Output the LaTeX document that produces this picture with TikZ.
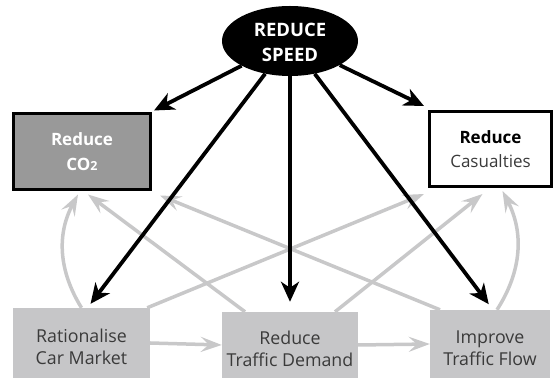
\documentclass[tikz,border=0pt]{standalone}
\usepackage{fontspec}
\setmainfont{Open Sans}
\usetikzlibrary{arrows.meta,shapes.geometric,calc}
\definecolor{lgray}{HTML}{C8C8C9}
\definecolor{boxgray}{HTML}{C6C6C8}
\definecolor{dgray}{HTML}{999999}
\definecolor{txt}{HTML}{3A3A3A}
\newcommand{\lowstrut}{\rule{0pt}{21pt}}
\begin{document}
\begin{tikzpicture}[x=1pt,y=-1pt,
  blk/.style={draw=black, line width=3.8pt, -{Stealth[length=20pt,width=18pt,inset=6pt]}},
  gry/.style={draw=lgray, line width=3.5pt, -{Stealth[length=21pt,width=15pt,inset=8pt]}},
  lowbox/.style={fill=boxgray, text=txt, align=center, inner sep=0pt,
    font=\fontsize{17.8}{22}\selectfont},
  topbox/.style={draw=black, line width=3pt, align=center, inner sep=0pt,
    font=\fontsize{17}{24}\selectfont}]
\useasboundingbox (0,0) rectangle (555,379);
% nodes
\node[ellipse, fill=black, minimum width=136pt, minimum height=70pt, inner sep=0pt,
  text=white, align=center, font=\bfseries\fontsize{18.5}{25}\selectfont] (speed) at (290,41) {\rule{0pt}{17pt}REDUCE\\SPEED};
\node[topbox, fill=dgray, text=white, minimum width=137pt, minimum height=76pt,
  font=\bfseries\fontsize{17}{25}\selectfont] (co2) at (82,152) {Reduce\\CO{\fontsize{12.5}{12.5}\selectfont 2}};
\node[topbox, fill=white, text=txt, minimum width=122pt, minimum height=75pt] (cas) at (490.5,149) {{\bfseries\color{black}Reduce}\\Casualties};
\node[lowbox, minimum width=137pt, minimum height=70pt] (rat) at (81.5,343) {\lowstrut Rationalise\\Car Market};
\node[lowbox, minimum width=136pt, minimum height=66pt] (dem) at (290,345) {\lowstrut Reduce\\Traffic Demand};
\node[lowbox, minimum width=120pt, minimum height=68pt] (imp) at (490,344) {\lowstrut Improve\\Traffic Flow};
% grey connectors
\draw[gry] (rat.east) -- (dem.west);
\draw[gry] (dem.east) -- (imp.west);
\draw[gry] (rat.north) to[bend left=30] ([shift={(-4,3)}]co2.south);
\draw[gry] ([xshift=7pt]imp.north) to[bend right=30] ([shift={(12,3)}]cas.south);
\draw[gry] ([xshift=-45pt]dem.north) -- ([shift={(6,3)}]co2.south);
\draw[gry] ([xshift=-50pt]imp.north) -- ([shift={(8,4)}]co2.south east);
\draw[gry] ([xshift=-3pt]rat.north east) -- ([shift={(-4,6)}]cas.south west);
\draw[gry] ([xshift=45pt]dem.north) -- ([shift={(-8,6)}]cas.south);
% black connectors
\draw[blk] (speed) -- ([shift={(2,-2)}]co2.north east);
\draw[blk] (speed) -- ([shift={(-4,-4)}]cas.north west);
\draw[blk, shorten >=5pt] (speed) -- ($(rat.north)+(6,0)$);
\draw[blk, shorten >=10pt] (speed) -- (dem.north);
\draw[blk, shorten >=7pt] (speed) -- ($(imp.north)+(3,0)$);
\end{tikzpicture}
\end{document}
